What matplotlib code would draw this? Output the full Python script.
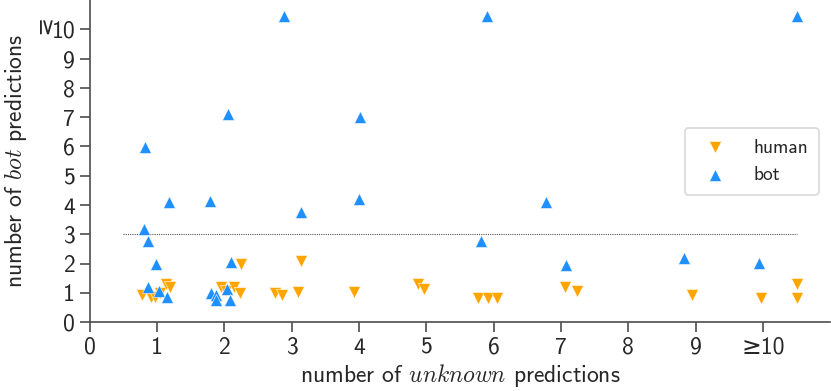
import matplotlib
matplotlib.use('Agg')
import matplotlib.pyplot as plt
import numpy as np

plt.rcParams['font.family'] = ['cmss10', 'DejaVu Sans']
plt.rcParams['mathtext.fontset'] = 'cm'
plt.rcParams['axes.formatter.use_mathtext'] = True

# human predictions (unknown count, bot count), jittered as in the figure
human_x = [0.77, 0.91, 0.97, 1.05, 1.13, 1.19,
           1.95, 2.03, 2.14, 2.23, 2.24,
           2.75, 2.86, 3.10, 3.14, 3.93, 4.87, 4.96,
           5.77, 5.91, 6.05, 7.06, 7.24, 8.94, 9.97, 10.5, 10.5]
human_y = [0.92, 0.87, 0.85, 0.98, 1.32, 1.21,
           1.21, 1.05, 1.21, 0.98, 1.98,
           1.00, 0.92, 1.04, 2.10, 1.04, 1.32, 1.13,
           0.83, 0.83, 0.83, 1.21, 1.07, 0.92, 0.84, 1.29, 0.84]

# bot predictions
bot_x = [2.88, 5.90, 10.5, 2.06, 4.01, 0.82, 1.17, 1.79, 3.14, 4.00,
         0.80, 0.87, 0.99, 2.10, 6.78, 5.81, 7.07, 8.83, 9.94,
         0.87, 1.03, 1.15, 1.80, 1.88, 1.88, 2.04, 2.08]
bot_y = [10.45, 10.45, 10.45, 7.12, 6.99, 5.99, 4.12, 4.15, 3.76, 4.20,
         3.18, 2.78, 2.00, 2.07, 4.12, 2.78, 1.95, 2.20, 2.03,
         1.21, 1.06, 0.87, 0.98, 0.92, 0.75, 1.15, 0.75]

ticks = list(range(11))
x_tick_labels = [str(t) for t in range(10)] + ['≥10']
y_tick_labels = [str(t) for t in range(11)]
threshold = 3

fig = plt.figure(figsize=(8.31, 3.91), dpi=100)
ax = fig.add_axes([0.108, 0.176, 0.891, 0.824])

ax.hlines(threshold, 0.5, 10.5, colors='#555555', linestyles=(0, (1, 1)), linewidth=0.8, zorder=1)

ax.scatter(human_x, human_y, marker='v', s=75, color='#FFA500', edgecolors='white',
           linewidths=0.4, label='human', zorder=3)
ax.scatter(bot_x, bot_y, marker='^', s=75, color='#1E90FF', edgecolors='white',
           linewidths=0.4, label='bot', zorder=3)

ax.set_xlim(0, 11)
ax.set_ylim(0, 11)
ax.set_xticks(ticks)
ax.set_xticklabels(x_tick_labels)
ax.set_yticks(ticks)
ax.set_yticklabels(y_tick_labels)

# the >= of the top y tick is drawn turned, as in the original
ax.annotate('≥', xy=(0, 10), xycoords=('axes fraction', 'data'), xytext=(-34, 0.5),
            textcoords='offset points', rotation=-90, ha='center', va='center',
            fontsize=16, color='#262626')

for side in ['top', 'right']:
    ax.spines[side].set_visible(False)
for side in ['left', 'bottom']:
    ax.spines[side].set_color('#4d4d4d')
    ax.spines[side].set_linewidth(1.2)
ax.tick_params(axis='both', direction='out', length=7, width=1.2, color='#4d4d4d',
               labelsize=17, labelcolor='#262626')

ax.set_xlabel(r'number of $unknown$ predictions', fontsize=17, color='#262626', labelpad=2)
ax.set_ylabel(r'number of $bot$ predictions', fontsize=17, color='#262626', labelpad=16)

leg = ax.legend(loc='upper right', bbox_to_anchor=(0.985, 0.603), fontsize=14,
                frameon=True, handletextpad=1.0, borderpad=0.55, labelspacing=0.5,
                borderaxespad=0)
leg.get_frame().set_edgecolor('#d0d0d0')
leg.get_frame().set_linewidth(1.2)
for t in leg.get_texts():
    t.set_color('#262626')

fig.savefig('out.png', dpi=100)
